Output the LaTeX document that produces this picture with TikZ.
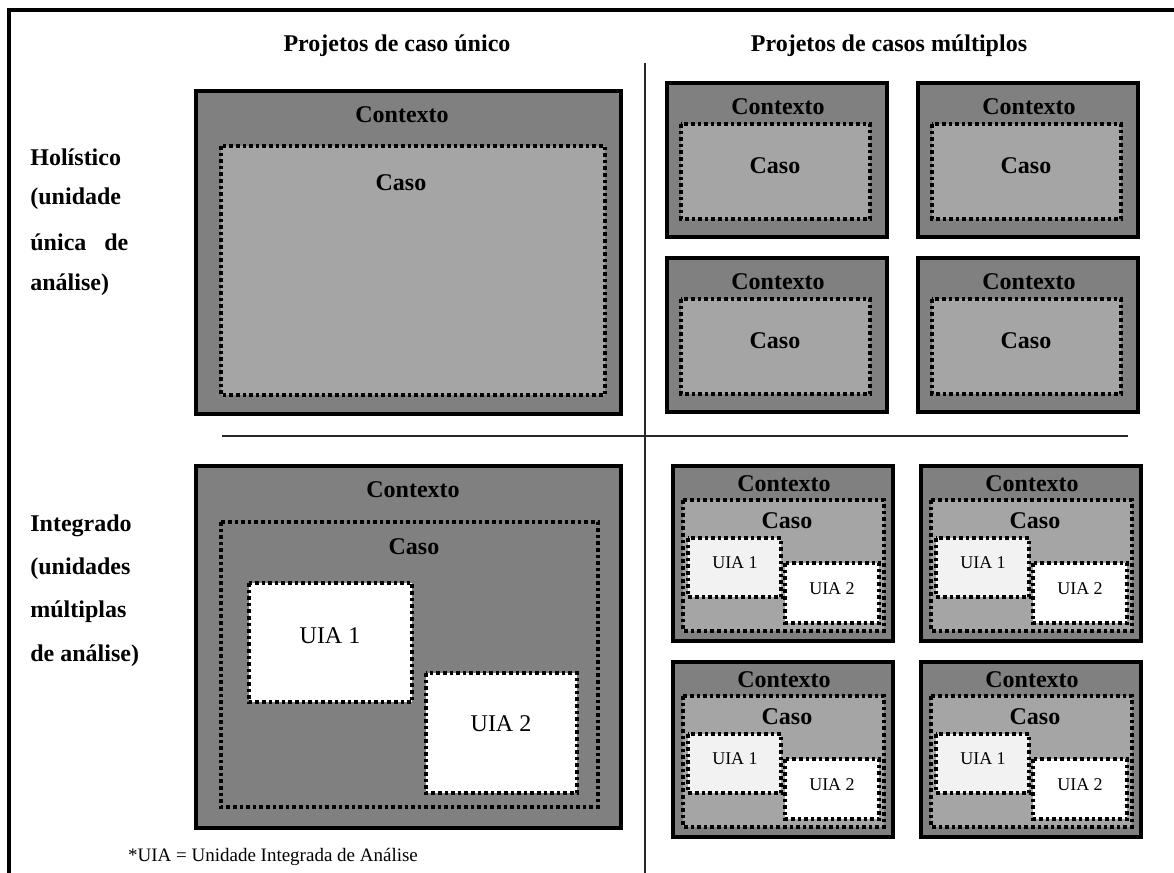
\documentclass[tikz,border=0pt]{standalone}
\usepackage{fontspec}
\setmainfont{Liberation Serif}
\definecolor{ctxgray}{HTML}{808080}
\definecolor{casegray}{HTML}{A5A5A5}
\definecolor{uiagray}{HTML}{F2F2F2}
\begin{document}
\begin{tikzpicture}[x=0.5pt,y=-0.5pt,
    ctxbox/.style={draw=black,line width=2.4pt,fill=ctxgray},
    casebox/.style={draw=black,line width=1.8pt,dash pattern=on 1.8pt off 1.5pt,fill=casegray},
    uiabox/.style={casebox,fill=white},
    lbl/.style={font=\fontsize{12}{14}\selectfont\bfseries,inner sep=0pt},
    uia/.style={font=\fontsize{12}{14}\selectfont,inner sep=0pt},
    uiasmall/.style={font=\fontsize{9}{11}\selectfont,inner sep=0pt},
    side/.style={lbl,anchor=west}]
  \useasboundingbox (0,0) rectangle (1174,873);
  % frame and dividers
  \draw[line width=2pt] (9,873) -- (9,10) -- (1174,10);
  \draw[line width=1pt,black!85] (645,63) -- (645,873);
  \draw[line width=1pt,black!85] (222,436) -- (1128,436);
  % column headers
  \node[lbl] (hsingle) at (397,46) {Projetos de caso único};
  \node[lbl] (hmulti) at (889,46) {Projetos de casos múltiplos};
  % row headers
  \node[side] (hol1) at (30,157) {Holístico};
  \node[side] (hol2) at (30,199) {\makebox[49pt][s]{(unidade}};
  \node[side] (hol3) at (30,242) {\makebox[49pt]{única\hfill de}};
  \node[side] (hol4) at (30,285) {análise)};
  \node[side] (int1) at (30,526) {Integrado};
  \node[side] (int2) at (30,569) {\makebox[52pt][s]{(unidades}};
  \node[side] (int3) at (30,612) {múltiplas};
  \node[side] (int4) at (30,656) {de análise)};

  % single case, holistic
  \draw[ctxbox] (196,91) rectangle (621,414);
  \draw[casebox] (221,146) rectangle (605,395);
  \node[lbl] (ctxA) at (402,115) {Contexto};
  \node[lbl] (casoA) at (401,183) {Caso};

  % multiple cases, holistic
  \foreach \dx/\dy/\n in {0/0/a,251/0/b,0/175/c,251/175/d} {
    \draw[ctxbox] (667+\dx,83+\dy) rectangle (887+\dx,237+\dy);
    \draw[casebox] (681+\dx,124+\dy) rectangle (870+\dx,219+\dy);
    \node[lbl] (ctx-\n) at (778+\dx,107+\dy) {Contexto};
    \node[lbl] (caso-\n) at (775+\dx,166+\dy) {Caso};
  }

  % single case, embedded
  \draw[ctxbox] (196,466) rectangle (621,828);
  \draw[casebox,fill=ctxgray] (221,522) rectangle (598,807);
  \draw[uiabox] (249,583) rectangle (412,702);
  \draw[uiabox] (426,673) rectangle (577,793);
  \node[lbl] (ctxB) at (413,490) {Contexto};
  \node[lbl] (casoB) at (414,547) {Caso};
  \node[uia] (uiaB1) at (330,636) {UIA 1};
  \node[uia] (uiaB2) at (501,724) {UIA 2};

  % multiple cases, embedded
  \foreach \dx/\dy/\n in {0/0/a,248/0/b,0/196/c,248/196/d} {
    \draw[ctxbox] (673+\dx,466+\dy) rectangle (893+\dx,641+\dy);
    \draw[casebox] (683+\dx,500+\dy) rectangle (884+\dx,631+\dy);
    \draw[uiabox,fill=uiagray] (688+\dx,538+\dy) rectangle (781+\dx,597+\dy);
    \draw[uiabox] (785+\dx,563+\dy) rectangle (879+\dx,623+\dy);
    \node[lbl] (ctxm-\n) at (784+\dx,484+\dy) {Contexto};
    \node[lbl] (casom-\n) at (787+\dx,521+\dy) {Caso};
    \node[uiasmall] (uia1-\n) at (735+\dx,563+\dy) {UIA 1};
    \node[uiasmall] (uia2-\n) at (832+\dx,589+\dy) {UIA 2};
  }

  % footnote
  \node[font=\fontsize{9.5}{11}\selectfont,inner sep=0pt] (note) at (273,857)
    {*UIA = Unidade Integrada de Análise};
\end{tikzpicture}
\end{document}
